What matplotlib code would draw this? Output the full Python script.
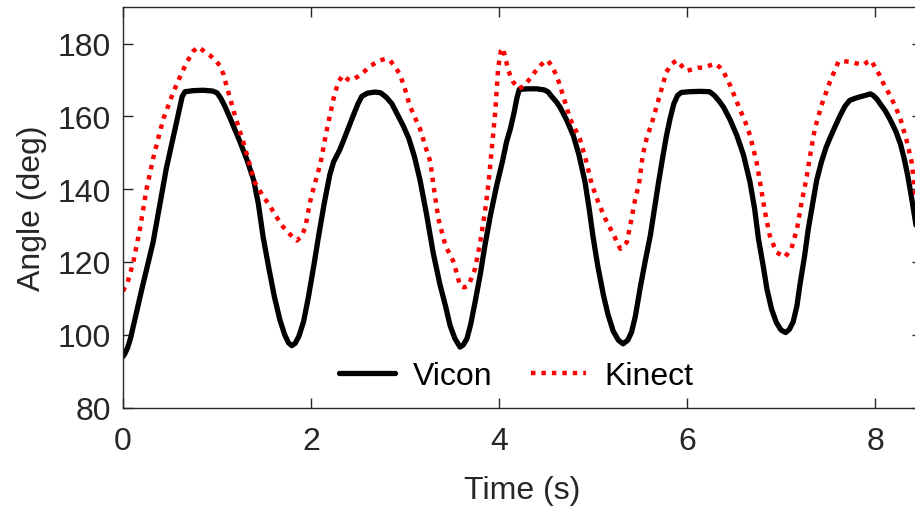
import matplotlib
matplotlib.use("Agg")
import matplotlib.pyplot as plt

# Vicon (reference) knee angle
t_vicon = [0.00, 0.02, 0.05, 0.08, 0.20, 0.32, 0.46, 0.57, 0.60, 0.63, 0.66, 0.75,
           0.85, 0.95, 1.00, 1.04, 1.08, 1.14, 1.245, 1.32, 1.39, 1.44, 1.49, 1.55,
           1.61, 1.67, 1.72, 1.76, 1.795, 1.83, 1.87, 1.92, 1.97, 2.03, 2.08, 2.14,
           2.20, 2.24, 2.30, 2.34, 2.40, 2.45, 2.50, 2.54, 2.60, 2.68, 2.74, 2.80,
           2.86, 2.92, 2.98, 3.04, 3.10, 3.16, 3.23, 3.30, 3.37, 3.43, 3.48, 3.53,
           3.585, 3.62, 3.66, 3.70, 3.745, 3.80, 3.85, 3.91, 3.975, 4.04, 4.08, 4.12,
           4.16, 4.19, 4.215, 4.30, 4.40, 4.48, 4.52, 4.56, 4.61, 4.65, 4.72, 4.79,
           4.85, 4.915, 4.96, 5.00, 5.05, 5.11, 5.16, 5.215, 5.27, 5.32, 5.37, 5.41,
           5.45, 5.50, 5.55, 5.61, 5.65, 5.695, 5.74, 5.78, 5.82, 5.86, 5.90, 5.94,
           6.03, 6.14, 6.24, 6.29, 6.34, 6.39, 6.46, 6.53, 6.60, 6.67, 6.72, 6.76,
           6.81, 6.85, 6.90, 6.95, 7.00, 7.05, 7.09, 7.13, 7.17, 7.20, 7.25, 7.29,
           7.34, 7.38, 7.43, 7.48, 7.52, 7.58, 7.63, 7.68, 7.73, 7.79, 7.84, 7.90,
           7.95, 7.98, 8.02, 8.06, 8.11, 8.16, 8.22, 8.27, 8.31, 8.35, 8.39, 8.43,
           8.50]
y_vicon = [94.0, 94.8, 96.5, 99.0, 112.5, 125.4, 145.6, 158.5, 162.0, 165.5, 166.8, 167.1,
           167.2, 167.0, 166.5, 165.0, 163.0, 159.5, 153.0, 148.0, 142.5, 136.0, 127.0, 118.5,
           110.5, 104.0, 100.0, 97.8, 97.0, 97.6, 99.5, 103.5, 110.0, 119.0, 127.0, 136.0,
           144.0, 147.5, 150.5, 153.0, 157.0, 160.3, 163.5, 165.5, 166.4, 166.7, 166.5, 165.3,
           163.5, 160.5, 157.5, 154.0, 149.0, 142.5, 133.0, 122.5, 114.0, 108.0, 102.5, 99.0,
           96.6, 97.2, 99.0, 103.0, 108.9, 116.5, 124.5, 133.0, 141.0, 148.0, 153.0, 156.5,
           161.0, 165.0, 167.4, 167.6, 167.6, 167.3, 166.8, 165.5, 164.0, 162.5, 159.0, 154.8,
           149.5, 142.0, 134.5, 127.0, 119.0, 111.0, 105.5, 101.0, 98.5, 97.5, 98.5, 100.7,
           105.0, 112.6, 119.5, 127.3, 134.0, 141.5, 148.5, 154.5, 159.4, 163.5, 165.8, 166.6,
           166.8, 166.9, 166.8, 165.8, 164.3, 162.5, 159.0, 154.8, 149.5, 142.0, 134.5, 126.4,
           119.0, 112.6, 107.0, 103.4, 101.3, 100.6, 101.5, 103.6, 108.0, 113.5, 121.5, 129.0,
           136.5, 142.5, 147.5, 151.5, 154.0, 157.5, 160.3, 162.8, 164.4, 165.0, 165.4, 165.8,
           166.2, 165.8, 164.8, 163.3, 161.5, 159.2, 156.0, 152.5, 148.5, 143.5, 137.5, 131.0,
           121.0]

# Kinect estimate
t_kinect = [0.00, 0.05, 0.11, 0.18, 0.25, 0.32, 0.38, 0.43, 0.49, 0.535, 0.60, 0.68,
            0.75, 0.80, 0.86, 0.925, 0.98, 1.03, 1.07, 1.10, 1.14, 1.18, 1.23, 1.28,
            1.34, 1.40, 1.48, 1.56, 1.63, 1.705, 1.78, 1.85, 1.90, 1.94, 1.99, 2.04,
            2.10, 2.17, 2.24, 2.29, 2.34, 2.39, 2.43, 2.50, 2.56, 2.64, 2.73, 2.79,
            2.84, 2.90, 2.95, 3.00, 3.05, 3.10, 3.16, 3.22, 3.27, 3.30, 3.355, 3.43,
            3.51, 3.55, 3.585, 3.63, 3.675, 3.745, 3.80, 3.85, 3.89, 3.93, 3.96, 3.99,
            4.02, 4.04, 4.07, 4.10, 4.15, 4.21, 4.27, 4.33, 4.39, 4.44, 4.49, 4.52,
            4.57, 4.61, 4.65, 4.68, 4.72, 4.755, 4.81, 4.86, 4.93, 4.985, 5.055, 5.13,
            5.215, 5.29, 5.36, 5.41, 5.45, 5.49, 5.53, 5.57, 5.64, 5.71, 5.78, 5.84,
            5.89, 5.94, 5.995, 6.06, 6.12, 6.17, 6.24, 6.30, 6.35, 6.39, 6.46, 6.56,
            6.62, 6.67, 6.74, 6.78, 6.83, 6.88, 6.95, 7.04, 7.11, 7.17, 7.22, 7.27,
            7.31, 7.36, 7.43, 7.52, 7.57, 7.61, 7.67, 7.73, 7.80, 7.88, 7.92, 7.96,
            8.00, 8.05, 8.10, 8.16, 8.22, 8.27, 8.34, 8.39, 8.43, 8.50]
y_kinect = [112.0, 114.5, 120.0, 129.0, 140.0, 148.4, 154.5, 159.4, 163.5, 166.7, 170.5, 175.0,
            178.0, 179.1, 178.0, 176.8, 175.5, 174.0, 171.5, 168.5, 165.0, 161.2, 157.0, 153.0,
            147.5, 142.0, 138.5, 135.5, 132.5, 129.6, 127.5, 125.9, 127.0, 129.6, 136.5, 141.5,
            147.0, 156.6, 164.9, 169.5, 171.3, 170.2, 169.9, 171.0, 172.2, 174.0, 175.4, 175.8,
            175.4, 173.5, 171.3, 167.5, 163.0, 160.0, 156.6, 151.5, 147.5, 141.5, 131.9, 124.5,
            120.4, 117.0, 113.5, 113.0, 113.5, 118.1, 125.4, 133.7, 142.0, 153.0, 161.2, 173.1,
            178.0, 178.8, 176.0, 172.5, 169.5, 167.6, 168.5, 170.4, 172.5, 174.0, 175.2, 175.4,
            173.5, 171.3, 168.5, 165.8, 162.5, 159.4, 156.5, 153.9, 147.5, 141.5, 136.5, 131.9,
            127.7, 123.6, 125.4, 131.9, 137.4, 141.5, 149.5, 153.9, 159.4, 165.8, 172.2, 174.5,
            175.4, 174.0, 172.5, 173.0, 173.4, 173.4, 174.0, 174.5, 173.5, 172.2, 168.5, 162.1,
            158.5, 154.8, 147.5, 141.5, 133.7, 127.3, 122.7, 121.3, 123.6, 129.1, 136.5, 142.9,
            149.3, 156.6, 163.0, 169.5, 172.5, 175.0, 175.2, 175.0, 174.6, 174.2, 175.0, 175.4,
            173.5, 171.3, 168.5, 165.8, 162.5, 159.4, 153.0, 147.5, 138.3, 130.0]

x_ticks = [0, 2, 4, 6, 8]
y_ticks = [80, 100, 120, 140, 160, 180]

plt.rcParams["font.family"] = ["Liberation Sans", "DejaVu Sans"]
grey = "#262626"

fig = plt.figure(figsize=(9.15, 5.1), dpi=100)
ax = fig.add_axes([123 / 915, 101.5 / 510, 799 / 915, 400.2 / 510])

ax.plot(t_vicon, y_vicon, color="black", linewidth=3.8, label="Vicon",
        solid_joinstyle="round", solid_capstyle="round")
ax.plot(t_kinect, y_kinect, color="red", linewidth=3.2, linestyle=(0, (1, 1.35)),
        dash_capstyle="butt", label="Kinect")

ax.set_xlim(0, 8.5)
ax.set_ylim(80, 190)
ax.set_xticks(x_ticks)
ax.set_yticks(y_ticks)
ax.tick_params(direction="in", top=True, right=True, length=7, width=1,
               colors=grey, labelsize=23)
ax.tick_params(axis="x", pad=13)
ax.tick_params(axis="y", pad=8.5)
for sp in ax.spines.values():
    sp.set_color(grey)
    sp.set_linewidth(1)

ax.set_xlabel("Time (s)", fontsize=23, color=grey, labelpad=14)
ax.set_ylabel("Angle (deg)", fontsize=23, color=grey, labelpad=8)

ax.legend(loc="center", bbox_to_anchor=(0.492, 0.078), ncol=2, frameon=False,
          fontsize=23, handlelength=1.75, handletextpad=0.55, columnspacing=1.2)

fig.savefig("out.png", dpi=100)
